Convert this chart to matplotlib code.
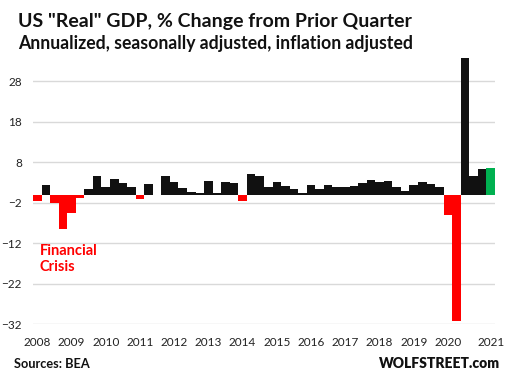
import matplotlib.pyplot as plt
import numpy as np

plt.rcParams['font.family'] = ['Lato', 'DejaVu Sans']

# quarterly real GDP change, annualized %, 2008 Q1 .. 2021 Q2
gdp_change = [
    -1.6, 2.3, -2.1, -8.5,    # 2008
    -4.6, -0.7, 1.5, 4.5,     # 2009
    1.9, 3.8, 3.0, 1.9,       # 2010
    -1.0, 2.7, -0.1, 4.5,     # 2011
    3.1, 1.7, 0.6, 0.4,       # 2012
    3.4, 0.4, 3.1, 3.0,       # 2013
    -1.5, 5.0, 4.6, 1.8,      # 2014
    3.2, 2.2, 1.3, 0.5,       # 2015
    2.4, 1.3, 2.4, 2.0,       # 2016
    2.0, 2.2, 2.9, 3.6,       # 2017
    3.1, 3.4, 1.9, 0.9,       # 2018
    2.4, 3.1, 2.7, 1.9,       # 2019
    -5.1, -31.2, 33.8, 4.5,   # 2020
    6.3, 6.5,                 # 2021
]
year_labels = ["2008", "2009", "2010", "2011", "2012", "2013", "2014",
               "2015", "2016", "2017", "2018", "2019", "2020", "2021"]
year_label_pos = [0, 4, 8, 12, 16, 20, 24, 28, 32, 36, 40, 44, 48, 53]
y_ticks = [28, 18, 8, -2, -12, -22, -32]

x = np.arange(len(gdp_change))
colors = ["#ff0000" if v < 0 else "#111111" for v in gdp_change]
colors[-1] = "#00b050"

fig = plt.figure(figsize=(5.09, 3.78), dpi=100)
ax = fig.add_axes([0.0648, 0.1421, 0.9077, 0.7071])
ax.set_axisbelow(True)
ax.grid(axis="y", color="#d9d9d9", linewidth=1.0)
ax.bar(x, gdp_change, width=1.0, color=colors, linewidth=0)

ax.set_xlim(-0.5, len(gdp_change) - 0.5)
ax.set_ylim(-32, 34)
ax.set_yticks(y_ticks)
ax.set_xticks(year_label_pos)
ax.set_xticklabels(year_labels)
ax.tick_params(axis="y", length=0, pad=8, labelsize=8.5, labelcolor="#222222")
ax.tick_params(axis="x", length=0, pad=9, labelsize=8.5, labelcolor="#222222")
for s in ax.spines.values():
    s.set_visible(False)

fig.text(18 / 509, 1 - 27 / 378, 'US "Real" GDP, % Change from Prior Quarter',
         fontsize=14, fontweight="bold", color="#111111", va="baseline")
fig.text(18 / 509, 1 - 49.5 / 378, "Annualized, seasonally adjusted, inflation adjusted",
         fontsize=12.7, fontweight="bold", color="#111111", va="baseline")
ax.text(0.3, -12.2, "Financial\nCrisis", color="#ff0000", fontsize=10.5,
        fontweight="bold", va="top", ha="left", linespacing=1.2)
fig.text(14 / 509, 1 - 367.5 / 378, "Sources: BEA", fontsize=9.2,
         fontweight="bold", color="#111111", va="baseline")
fig.text(500 / 509, 1 - 367.5 / 378, "WOLFSTREET.com", fontsize=10,
         fontweight="heavy", color="#111111", va="baseline", ha="right")

fig.savefig("out.png", dpi=100)
